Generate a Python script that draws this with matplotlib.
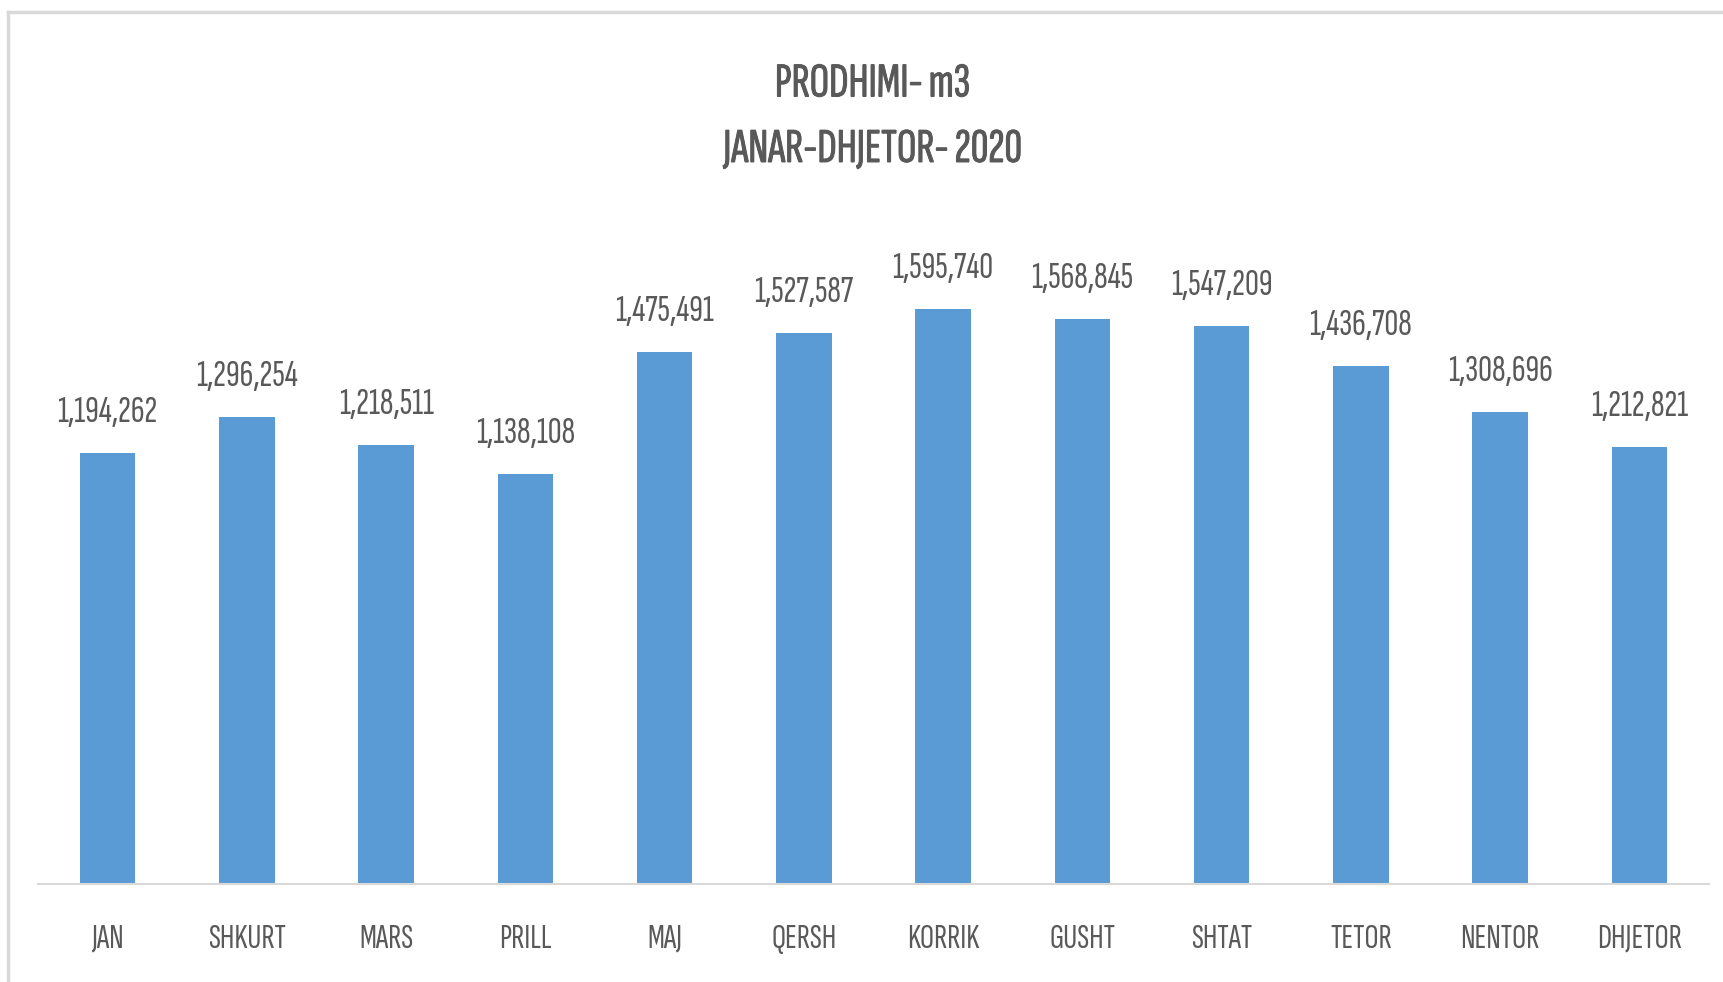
import matplotlib
matplotlib.use("Agg")
import matplotlib.pyplot as plt
import matplotlib.patheffects as pe
from matplotlib.lines import Line2D

months = ["JAN", "SHKURT", "MARS", "PRILL", "MAJ", "QERSH", "KORRIK",
          "GUSHT", "SHTAT", "TETOR", "NENTOR", "DHJETOR"]
production = [1194262, 1296254, 1218511, 1138108, 1475491, 1527587,
              1595740, 1568845, 1547209, 1436708, 1308696, 1212821]
title_lines = ["PRODHIMI- m3", "JANAR-DHJETOR- 2020"]

FAM = ["Sofia Sans Extra Condensed", "DejaVu Sans"]
TEXT = "#595959"
BAR = "#5B9BD5"
W, H = 1723, 982

fig = plt.figure(figsize=(W / 100, H / 100), dpi=100)
renderer = fig.canvas.get_renderer()


def fit_size(text, target_px, **kw):
    t = fig.text(0, 0, text, fontsize=20, family=FAM, **kw)
    w = t.get_window_extent(renderer).width
    t.remove()
    return 20 * target_px / w


label_fs = fit_size("1,194,262", 100)
tick_fs = fit_size("SHKURT", 78)
title_fs = fit_size(title_lines[1], 300, fontweight="bold")

ax = fig.add_axes([38 / W, 1 - 883.5 / H, (1709 - 38) / W, (883.5 - 235.3) / H])

x = list(range(len(months)))
ax.bar(x, production, width=0.4, color=BAR, zorder=2)
ax.set_xlim(-0.5, len(months) - 0.5)
ax.set_ylim(0, 1800000)
ax.set_yticks([])
for s in ["top", "right", "left"]:
    ax.spines[s].set_visible(False)
ax.spines["bottom"].set_color("#d9d9d9")
ax.spines["bottom"].set_linewidth(1.5)
ax.set_xticks(x)
ax.set_xticklabels(months, family=FAM, fontsize=tick_fs, color=TEXT)
ax.tick_params(axis="x", length=0, pad=64 * 0.72)
for lab in ax.get_xticklabels():
    lab.set_verticalalignment("baseline")

for xi, v in zip(x, production):
    ax.annotate(f"{v:,}", (xi, v), xytext=(0, 31 * 0.72), textcoords="offset points",
                ha="center", va="baseline", family=FAM, fontsize=label_fs, color=TEXT)

bold = [pe.withStroke(linewidth=0.7, foreground=TEXT)]
fig.text(872.5 / W, 1 - 96.5 / H, title_lines[0], ha="center", va="baseline",
         family=FAM, fontsize=title_fs, fontweight="bold", color=TEXT, path_effects=bold)
fig.text(872.5 / W, 1 - 162 / H, title_lines[1], ha="center", va="baseline",
         family=FAM, fontsize=title_fs, fontweight="bold", color=TEXT, path_effects=bold)

# outer chart border (top and left edges visible)
fig.add_artist(Line2D([8 / W, 1], [1 - 11.5 / H, 1 - 11.5 / H], transform=fig.transFigure,
                      color="#d9d9d9", lw=2.5))
fig.add_artist(Line2D([8 / W, 8 / W], [0, 1 - 11.5 / H], transform=fig.transFigure,
                      color="#d9d9d9", lw=2.5))

fig.savefig("out.png", dpi=100)
